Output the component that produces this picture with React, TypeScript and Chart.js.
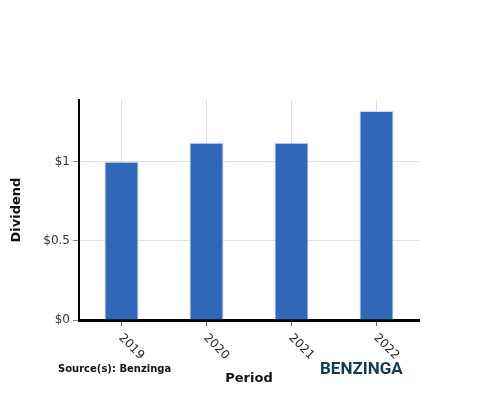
import { useEffect, useRef } from 'react';
import { Chart, type ChartConfiguration, type Plugin, registerables } from 'chart.js';

Chart.register(...registerables);

const periods = ['2019', '2020', '2021', '2022'];
const dividends = [1.0, 1.12, 1.12, 1.32];
const yTicks = [0, 0.5, 1];

const BAR_COLOR = '#3067b8';
const BAR_BORDER = '#c9d7ef';

// x labels go down to the right, which Chart.js won't do itself
const rotatedLabels: Plugin<'bar'> = {
    id: 'rotatedLabels',
    afterDraw(chart) {
        const { ctx } = chart;
        const x = chart.scales.x;
        ctx.save();
        ctx.font = '12px "DejaVu Sans"';
        ctx.fillStyle = '#222';
        ctx.textAlign = 'left';
        ctx.textBaseline = 'middle';
        periods.forEach((label, i) => {
            const px = x.getPixelForTick(i);
            ctx.save();
            ctx.translate(px - 1, x.top + 16);
            ctx.rotate(Math.PI / 4);
            ctx.fillText(label, 0, 0);
            ctx.restore();
        });

        ctx.font = 'bold 10px "DejaVu Sans"';
        ctx.fillStyle = '#111';
        ctx.fillText('Source(s): Benzinga', 58, 369);

        ctx.font = 'bold 17px Roboto';
        ctx.fillStyle = '#0e3b5c';
        ctx.fillText('BENZINGA', 320, 370, 83);
        ctx.restore();
    },
};

export default function App() {
    const canvasRef = useRef<HTMLCanvasElement>(null);
    const chartRef = useRef<Chart | null>(null);

    useEffect(() => {
        document.body.style.margin = '0';
        if (!canvasRef.current) return;
        if (chartRef.current) chartRef.current.destroy();

        const config: ChartConfiguration<'bar'> = {
            type: 'bar',
            data: {
                labels: periods,
                datasets: [
                    {
                        label: 'Dividend',
                        data: dividends,
                        backgroundColor: BAR_COLOR,
                        borderColor: BAR_BORDER,
                        borderWidth: 1,
                        barPercentage: 0.4,
                        categoryPercentage: 1,
                    },
                ],
            },
            options: {
                responsive: false,
                animation: false,
                layout: { padding: { top: 100, right: 81, bottom: 0, left: 0 } },
                plugins: {
                    legend: { display: false },
                    tooltip: { enabled: false },
                },
                scales: {
                    x: {
                        afterFit: (s) => {
                            s.height = 80;
                        },
                        grid: {
                            offset: false,
                            color: '#dddddd',
                            tickLength: 6,
                            tickColor: '#666',
                        },
                        border: { color: '#000', width: 3 },
                        ticks: { color: 'transparent', maxRotation: 45, minRotation: 45 },
                        title: {
                            display: true,
                            text: 'Period',
                            color: '#111',
                            font: { family: '"DejaVu Sans"', size: 13, weight: 'bold' },
                            padding: { bottom: 14 },
                        },
                    },
                    y: {
                        min: 0,
                        max: 1.39,
                        afterFit: (s) => {
                            s.width = 79;
                        },
                        afterBuildTicks: (s) => {
                            s.ticks = yTicks.map((v) => ({ value: v }));
                        },
                        grid: {
                            color: '#e2e2e2',
                            tickLength: 6,
                            tickColor: '#888',
                        },
                        border: { color: '#000', width: 2 },
                        ticks: {
                            color: '#333',
                            padding: 3,
                            font: { family: '"DejaVu Sans"', size: 12 },
                            callback: (v) => '$' + v,
                        },
                        title: {
                            display: true,
                            text: 'Dividend',
                            color: '#111',
                            font: { family: '"DejaVu Sans"', size: 13, weight: 'bold' },
                            padding: { top: 9 },
                        },
                    },
                },
            },
            plugins: [rotatedLabels],
        };

        chartRef.current = new Chart(canvasRef.current, config);
        return () => {
            chartRef.current?.destroy();
            chartRef.current = null;
        };
    }, []);

    return (
        <div style={{ width: 500, height: 400 }}>
            <canvas ref={canvasRef} width={500} height={400}></canvas>
        </div>
    );
}
